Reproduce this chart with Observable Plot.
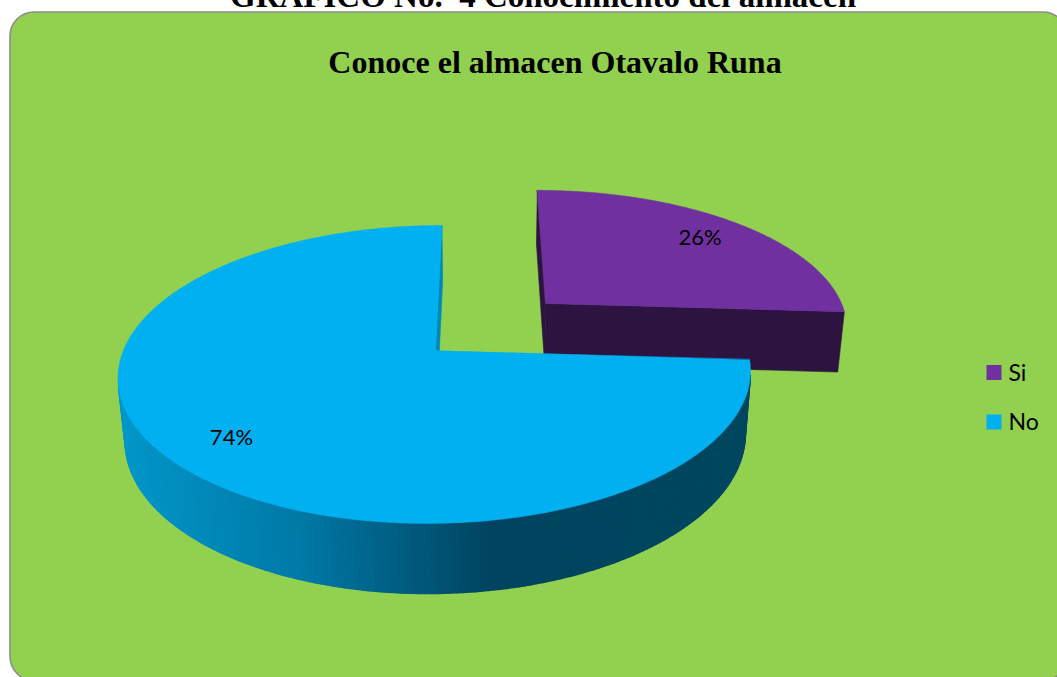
<!DOCTYPE html>
<html><head><meta charset="utf-8">
<script src="https://cdn.jsdelivr.net/npm/d3@7"></script>
<script src="https://cdn.jsdelivr.net/npm/@observablehq/plot@0.6"></script>
<style>html,body{margin:0;padding:0;background:#fff;overflow:hidden}</style>
</head><body><div id="chart"></div>
<script>
// ---- data ----
const heading = "GRAFICO No.  4 Conocimiento del almacen";
const title = "Conoce el almacen Otavalo Runa";
const categories = ["Si", "No"];
const values = [26, 74];
const labels = ["26%", "74%"];
const topColors = ["#7030a0", "#00b0f0"];
const sideColors = ["#2c1340", "#0096c8"];
const explode = [0.5, 0];

// ---- layout / 3D projection ----
const W = 1057, H = 677;
const cam = {x: 435, y: 350, s: 312, sinT: 0.465, cosT: 0.885, d: 5.5, depth: 0.23, uc: 0.15};
function proj(u, v, h) {
  const yp = v * cam.sinT + h * cam.cosT;
  const zp = v * cam.cosT - h * cam.sinT;
  const p = cam.d / (cam.d + zp);
  return [cam.x + cam.s * cam.uc + cam.s * (u - cam.uc) * p, cam.y - cam.s * yp * p];
}
const camPos = [cam.uc, -cam.d * cam.cosT, cam.d * cam.sinT];
function facing(P, n) {
  return (camPos[0] - P[0]) * n[0] + (camPos[1] - P[1]) * n[1] + (camPos[2] - P[2]) * n[2] > 0;
}

const arcs = d3.pie().sort(null).value(d => d)(values);
const slices = arcs.map((a, i) => {
  const phi0 = Math.PI / 2 - a.endAngle;
  const phi1 = Math.PI / 2 - a.startAngle;
  const mid = (phi0 + phi1) / 2;
  return {i, phi0, phi1, mid, ou: explode[i] * Math.cos(mid), ov: explode[i] * Math.sin(mid)};
});
// far slices first
const order = slices.slice().sort((a, b) => (b.ov + 0.5 * Math.sin(b.mid)) - (a.ov + 0.5 * Math.sin(a.mid)));

const wallShade = d3.scaleLinear().domain([125, 300, 490, 760])
  .range(["#0096c8", "#0079a6", "#00445f", "#00475f"]).clamp(true);

const polys = [];   // top faces and radial faces
const walls = [];   // curved wall segments
let pid = 0;
function addPoly(target, pts, fill) {
  const id = pid++;
  pts.forEach(([x, y]) => target.push({id, x, y, fill}));
}
const D = cam.depth;
const layers = [];
for (const s of order) {
  const {ou, ov, phi0, phi1, i} = s;
  const sides = [], wall = [], top = [];
  // radial faces
  const faces = [[phi0, phi0 - Math.PI / 2], [phi1, phi1 + Math.PI / 2]];
  for (const [phi, nAng] of faces) {
    const n = [Math.cos(nAng), Math.sin(nAng), 0];
    if (!facing([ou, ov, -D / 2], n)) continue;
    const cu = Math.cos(phi), cv = Math.sin(phi);
    addPoly(sides, [proj(ou, ov, 0), proj(ou + cu, ov + cv, 0), proj(ou + cu, ov + cv, -D), proj(ou, ov, -D)],
      i === 0 ? sideColors[0] : d3.color(sideColors[1]).darker(0.25).formatHex());
  }
  // outer wall segments
  const steps = Math.ceil((phi1 - phi0) / (Math.PI / 180));
  for (let k = 0; k < steps; k++) {
    const a0 = phi0 + (phi1 - phi0) * k / steps;
    const a1 = phi0 + (phi1 - phi0) * (k + 1) / steps;
    const am = (a0 + a1) / 2;
    if (!facing([ou + Math.cos(am), ov + Math.sin(am), -D / 2], [Math.cos(am), Math.sin(am), 0])) continue;
    const pts = [proj(ou + Math.cos(a0), ov + Math.sin(a0), 0), proj(ou + Math.cos(a1), ov + Math.sin(a1), 0),
                 proj(ou + Math.cos(a1), ov + Math.sin(a1), -D), proj(ou + Math.cos(a0), ov + Math.sin(a0), -D)];
    const xm = (pts[0][0] + pts[1][0]) / 2;
    addPoly(wall, pts, i === 1 ? wallShade(xm) : sideColors[0]);
  }
  // top
  const tp = [proj(ou, ov, 0)];
  const n = Math.ceil((phi1 - phi0) / (Math.PI / 360));
  for (let k = 0; k <= n; k++) {
    const a = phi0 + (phi1 - phi0) * k / n;
    tp.push(proj(ou + Math.cos(a), ov + Math.sin(a), 0));
  }
  addPoly(top, tp, topColors[i]);
  layers.push({sides, wall, top});
}

const labelData = slices.map(s => {
  const [x, y] = proj(s.ou + 0.8 * Math.cos(s.mid), s.ov + 0.8 * Math.sin(s.mid), 0);
  return {x, y, text: labels[s.i]};
});

const legendY = (d, i) => 372 + i * 49.5;

const pieMarks = layers.flatMap(L => [
  Plot.line(L.wall, {x: "x", y: "y", z: "id", fill: "fill", stroke: "fill", strokeWidth: 1.6, curve: "linear-closed"}),
  Plot.line(L.sides, {x: "x", y: "y", z: "id", fill: "fill", stroke: "fill", strokeWidth: 0.6, curve: "linear-closed"}),
  Plot.line(L.top, {x: "x", y: "y", z: "id", fill: "fill", stroke: "fill", strokeWidth: 0.6, curve: "linear-closed"})
]);

const chart = Plot.plot({
  width: W, height: H,
  margin: 0,
  x: {domain: [0, W], range: [0, W], axis: null},
  y: {domain: [0, H], range: [0, H], axis: null},
  color: {type: "identity"},
  marks: [
    Plot.frame({fill: "#92d050", stroke: "#8c8c8c", strokeWidth: 1.6, rx: 24,
      insetLeft: 9.5, insetTop: 11.5, insetRight: -9.5, insetBottom: -3}),
    Plot.text([heading], {frameAnchor: "top", lineAnchor: "bottom", dx: 14, dy: 6,
      fontSize: 33, fontWeight: "bold", fontFamily: "Liberation Serif", fill: "#000"}),
    Plot.text([title], {frameAnchor: "top", lineAnchor: "bottom", dx: 26, dy: 72,
      fontSize: 32, fontWeight: "bold", fontFamily: "Liberation Serif", fill: "#000"}),
    ...pieMarks,
    Plot.text(labelData, {x: "x", y: "y", text: "text", fontSize: 22, fontFamily: "Lato", fill: "#000"}),
    Plot.dot(categories, {x: () => 993.5, y: legendY, symbol: "square", r: 8.46, fill: (d, i) => topColors[i], stroke: null}),
    Plot.text(categories, {x: () => 1008, y: legendY, dy: 1, text: d => d, textAnchor: "start",
      fontSize: 23, fontFamily: "Lato", fill: "#000"})
  ]
});
document.getElementById("chart").appendChild(chart);
</script>
</body></html>
